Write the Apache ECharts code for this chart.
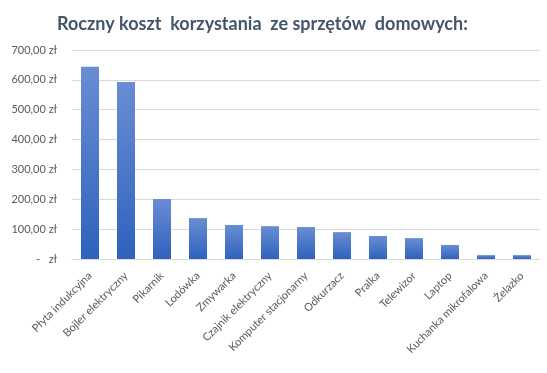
<!DOCTYPE html>
<html><head><meta charset="utf-8">
<script src="https://cdn.jsdelivr.net/npm/echarts@6/dist/echarts.min.js"></script>
<style>html,body{margin:0;padding:0;background:#fff}#c{width:547px;height:373px}</style>
</head><body><div id="c"></div>
<script>
const categories = ["Płyta indukcyjna","Bojler elektryczny","Pikarnik","Lodówka","Zmywarka","Czajnik elektryczny","Komputer stacjonarny","Odkurzacz","Pralka","Telewizor","Laptop","Kuchanka mikrofalowa","Żelazko"];
const values = [644, 593, 201, 137, 114, 110, 107, 90, 77, 70, 47, 13, 13];
const titleText = "Roczny koszt  korzystania  ze sprzętów  domowych:";

const chart = echarts.init(document.getElementById('c'), null, {renderer:'canvas'});
chart.setOption({
  animation:false,
  backgroundColor:'#fff',
  title:{text:titleText,left:52,top:10,textStyle:{fontFamily:'Lato',fontWeight:'bold',fontSize:18,color:'#44546A'}},
  grid:{left:72,right:7,top:50,bottom:114},
  xAxis:{type:'category',data:categories,
    axisLine:{lineStyle:{color:'#D9D9D9'}},axisTick:{show:false},
    axisLabel:{rotate:45,interval:0,color:'#595959',fontFamily:'Lato',fontSize:11,margin:15}},
  yAxis:{type:'value',min:0,max:700,interval:100,
    axisLine:{show:false},axisTick:{show:false},
    splitLine:{lineStyle:{color:'#D9D9D9'}},
    axisLabel:{color:'#595959',fontFamily:'Lato',fontSize:11,margin:15,
      formatter:v=> v===0 ? '-   zł' : v.toFixed(2).replace('.',',')+' zł'}},
  series:[{type:'bar',data:values,barCategoryGap:'50%',
    itemStyle:{color:new echarts.graphic.LinearGradient(0,0,0,1,[{offset:0,color:'#6A8DD3'},{offset:1,color:'#2E62BE'}])}}]
});
</script></body></html>
